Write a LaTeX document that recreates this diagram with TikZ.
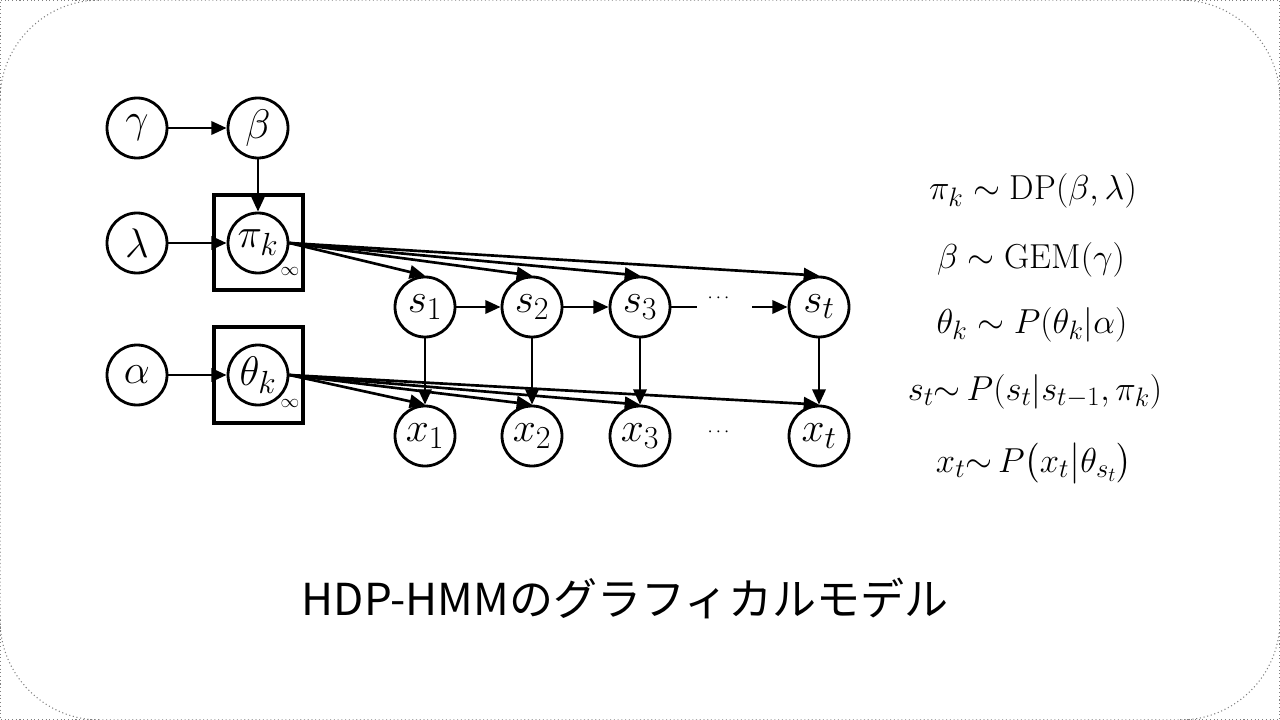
\RequirePackage{fix-cm}
\documentclass[tikz,border=0pt]{standalone}
\usepackage{amsmath}
\usepackage{fontspec}
\newfontfamily\jpfont{Noto Sans CJK JP}
\usetikzlibrary{arrows.meta}
\DeclareMathSizes{31}{31}{24}{18}
\DeclareMathSizes{26}{26}{20}{15}
\begin{document}
\begin{tikzpicture}[x=0.75pt,y=-0.75pt,
  var/.style={circle,draw,line width=2.1pt,minimum size=45pt,inner sep=0pt,font=\fontsize{31}{36}\selectfont},
  plate/.style={draw,line width=2.6pt,minimum width=66.75pt,inner sep=0pt},
  arr/.style={line width=2pt,-{Triangle[length=11.5pt,width=10pt]}},
  seg/.style={line width=2pt},
  eq/.style={anchor=base,inner sep=0pt,font=\fontsize{26}{32}\selectfont},
  dots/.style={font=\fontsize{14}{14}\selectfont,inner sep=0pt},
  small/.style={font=\fontsize{14}{14}\selectfont,inner sep=0pt}]
\useasboundingbox (0,0) rectangle (1280,720);
\draw[dotted,gray,line width=0.8pt,rounded corners=75pt] (0,0) rectangle (1280,720);
\draw[dotted,gray,line width=0.8pt] (0,100) -- (0,0) -- (100,0);
\draw[dotted,gray,line width=0.8pt] (1180,0) -- (1280,0) -- (1280,100);
\draw[dotted,gray,line width=0.8pt] (0,620) -- (0,720) -- (100,720);
\draw[dotted,gray,line width=0.8pt] (1180,720) -- (1280,720) -- (1280,620);

% plates
\node[plate,minimum height=71.25pt] (pplate) at (258.5,242.5) {};
\node[plate,minimum height=72pt] (tplate) at (258.5,375) {};

% variables
\node[var] (gamma) at (137,128) {$\gamma$};
\node[var] (beta) at (258,128) {$\beta$};
\node[var] (lambda) at (137,243) {$\lambda$};
\node[var] (pi) at (258,243) {$\pi_k$};
\node[var] (alpha) at (137,375) {$\alpha$};
\node[var] (theta) at (258,375) {$\theta_k$};
\node[small] (inf1) at (290,271) {$\infty$};
\node[small] (inf2) at (290,403) {$\infty$};

\node[var] (s1) at (425,307) {$s_1$};
\node[var] (s2) at (532,307) {$s_2$};
\node[var] (s3) at (640,307) {$s_3$};
\node[var] (st) at (819,307) {$s_t$};
\node[var] (x1) at (425,436) {$x_1$};
\node[var] (x2) at (532,436) {$x_2$};
\node[var] (x3) at (640,436) {$x_3$};
\node[var] (xt) at (819,436) {$x_t$};
\node[dots] (sdots) at (720,298) {$\cdots$};
\node[dots] (xdots) at (720,432) {$\cdots$};
\coordinate (sa) at (697,307);
\coordinate (sb) at (752,307);

% edges
\draw[arr] (gamma) -- (beta);
\draw[arr] (beta) -- (pi);
\draw[arr] (lambda) -- (pi);
\draw[arr] (alpha) -- (theta);
\foreach \n in {s1,s2,s3,st} \draw[arr] (pi.east) -- (\n.north);
\foreach \n in {x1,x2,x3,xt} \draw[arr] (theta.east) -- (\n.north);
\draw[arr] (s1) -- (s2);
\draw[arr] (s2) -- (s3);
\draw[seg] (s3) -- (sa);
\draw[arr] (sb) -- (st);
\draw[arr] (s1) -- (x1);
\draw[arr] (s2) -- (x2);
\draw[arr] (s3) -- (x3);
\draw[arr] (st) -- (xt);

% equations
\node[eq] (e1) at (1033,200) {$\pi_k \sim \mathrm{DP}(\beta,\lambda)$};
\node[eq] (e2) at (1031,268) {$\beta \sim \mathrm{GEM}(\gamma)$};
\node[eq] (e3) at (1032,333) {$\theta_k \sim P(\theta_k|\alpha)$};
\node[eq] (e4) at (1035,400) {$s_t{\sim}\,P(s_t|s_{t-1},\pi_k)$};
\node[eq] (e5) at (1034,472) {$x_t{\sim}\,P\bigl(x_t\big|\theta_{s_t}\bigr)$};

% title
\node[font=\jpfont\fontsize{33}{38}\selectfont] (title) at (625,598) {HDP-HMMのグラフィカルモデル};
\end{tikzpicture}
\end{document}
